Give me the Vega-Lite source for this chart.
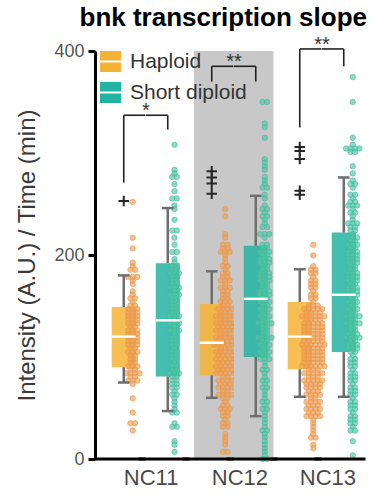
{
"$schema": "https://vega.github.io/schema/vega-lite/v6.json",
"padding": {"left": 15, "top": 4, "right": 0, "bottom": 0},
"bounds": "flush",
"title": {"text": "bnk transcription slope", "fontSize": 26, "fontWeight": "bold", "color": "#000000", "anchor": "end", "offset": 4},
"data": {"values": [
{"g":"NC11H","t":"Haploid","q1":90,"med":120,"q3":149,"lo":75,"hi":180},
{"g":"NC11D","t":"Short diploid","q1":81,"med":136,"q3":192,"lo":47,"hi":246},
{"g":"NC12H","t":"Haploid","q1":82,"med":114,"q3":152,"lo":60,"hi":184},
{"g":"NC12D","t":"Short diploid","q1":100,"med":157,"q3":209,"lo":42,"hi":258},
{"g":"NC13H","t":"Haploid","q1":88,"med":120,"q3":154,"lo":61,"hi":186},
{"g":"NC13D","t":"Short diploid","q1":105,"med":161,"q3":222,"lo":61,"hi":276},
{"g":"NC12H","k":"bg"},{"g":"NC12D","k":"bg"},
{"g":"NC11H","bt":337,"bl":271},{"g":"NC11D","bt":337,"bl":323,"s":"*"},
{"g":"NC12H","bt":385,"bl":370},{"g":"NC12D","bt":385,"bl":370,"s":"**"},
{"g":"NC13H","bt":402,"bl":325},{"g":"NC13D","bt":402,"bl":385,"s":"**"},
{"g":"NC11H","o":253},
{"g":"NC12H","o":282},{"g":"NC12H","o":276},{"g":"NC12H","o":270},{"g":"NC12H","o":260},
{"g":"NC13H","o":306},{"g":"NC13H","o":302},{"g":"NC13H","o":294},{"g":"NC13H","o":263},{"g":"NC13H","o":259},
{"g":"NC11H","v":253},{"g":"NC11H","v":220},{"g":"NC11H","v":209},{"g":"NC11H","v":194},{"g":"NC11H","v":192},{"g":"NC11H","v":188},{"g":"NC11H","v":186},{"g":"NC11H","v":181},{"g":"NC11H","v":180},{"g":"NC11H","v":179},{"g":"NC11H","v":176},{"g":"NC11H","v":172},{"g":"NC11H","v":166},{"g":"NC11H","v":163},{"g":"NC11H","v":160},{"g":"NC11H","v":158},{"g":"NC11H","v":155},{"g":"NC11H","v":153},{"g":"NC11H","v":151},{"g":"NC11H","v":149},{"g":"NC11H","v":148},{"g":"NC11H","v":147},{"g":"NC11H","v":146},{"g":"NC11H","v":145},{"g":"NC11H","v":144},{"g":"NC11H","v":143},{"g":"NC11H","v":141},{"g":"NC11H","v":140},{"g":"NC11H","v":139},{"g":"NC11H","v":138},{"g":"NC11H","v":137},{"g":"NC11H","v":135},{"g":"NC11H","v":134},{"g":"NC11H","v":133},{"g":"NC11H","v":132},{"g":"NC11H","v":130},{"g":"NC11H","v":129},{"g":"NC11H","v":128},{"g":"NC11H","v":127},{"g":"NC11H","v":125},{"g":"NC11H","v":124},{"g":"NC11H","v":123},{"g":"NC11H","v":122},{"g":"NC11H","v":121},{"g":"NC11H","v":120},{"g":"NC11H","v":118},{"g":"NC11H","v":117},{"g":"NC11H","v":116},{"g":"NC11H","v":115},{"g":"NC11H","v":113},{"g":"NC11H","v":112},{"g":"NC11H","v":111},{"g":"NC11H","v":110},{"g":"NC11H","v":108},{"g":"NC11H","v":107},{"g":"NC11H","v":105},{"g":"NC11H","v":104},{"g":"NC11H","v":102},{"g":"NC11H","v":101},{"g":"NC11H","v":99},{"g":"NC11H","v":97},{"g":"NC11H","v":96},{"g":"NC11H","v":94},{"g":"NC11H","v":93},{"g":"NC11H","v":91},{"g":"NC11H","v":89},{"g":"NC11H","v":88},{"g":"NC11H","v":87},{"g":"NC11H","v":86},{"g":"NC11H","v":85},{"g":"NC11H","v":84},{"g":"NC11H","v":83},{"g":"NC11H","v":81},{"g":"NC11H","v":80},{"g":"NC11H","v":78},{"g":"NC11H","v":77},{"g":"NC11H","v":75},{"g":"NC11H","v":62},{"g":"NC11H","v":46},{"g":"NC11H","v":37},{"g":"NC11H","v":35},{"g":"NC11H","v":29},
{"g":"NC11D","v":311},{"g":"NC11D","v":285},{"g":"NC11D","v":280},{"g":"NC11D","v":279},{"g":"NC11D","v":278},{"g":"NC11D","v":272},{"g":"NC11D","v":263},{"g":"NC11D","v":258},{"g":"NC11D","v":256},{"g":"NC11D","v":251},{"g":"NC11D","v":246},{"g":"NC11D","v":236},{"g":"NC11D","v":226},{"g":"NC11D","v":225},{"g":"NC11D","v":219},{"g":"NC11D","v":213},{"g":"NC11D","v":205},{"g":"NC11D","v":203},{"g":"NC11D","v":196},{"g":"NC11D","v":194},{"g":"NC11D","v":191},{"g":"NC11D","v":190},{"g":"NC11D","v":188},{"g":"NC11D","v":187},{"g":"NC11D","v":185},{"g":"NC11D","v":184},{"g":"NC11D","v":182},{"g":"NC11D","v":180},{"g":"NC11D","v":179},{"g":"NC11D","v":177},{"g":"NC11D","v":176},{"g":"NC11D","v":174},{"g":"NC11D","v":172},{"g":"NC11D","v":171},{"g":"NC11D","v":169},{"g":"NC11D","v":168},{"g":"NC11D","v":166},{"g":"NC11D","v":164},{"g":"NC11D","v":163},{"g":"NC11D","v":161},{"g":"NC11D","v":160},{"g":"NC11D","v":158},{"g":"NC11D","v":156},{"g":"NC11D","v":155},{"g":"NC11D","v":153},{"g":"NC11D","v":151},{"g":"NC11D","v":150},{"g":"NC11D","v":148},{"g":"NC11D","v":146},{"g":"NC11D","v":145},{"g":"NC11D","v":143},{"g":"NC11D","v":141},{"g":"NC11D","v":140},{"g":"NC11D","v":138},{"g":"NC11D","v":136},{"g":"NC11D","v":135},{"g":"NC11D","v":133},{"g":"NC11D","v":131},{"g":"NC11D","v":129},{"g":"NC11D","v":128},{"g":"NC11D","v":126},{"g":"NC11D","v":124},{"g":"NC11D","v":122},{"g":"NC11D","v":120},{"g":"NC11D","v":118},{"g":"NC11D","v":116},{"g":"NC11D","v":114},{"g":"NC11D","v":112},{"g":"NC11D","v":110},{"g":"NC11D","v":108},{"g":"NC11D","v":106},{"g":"NC11D","v":104},{"g":"NC11D","v":102},{"g":"NC11D","v":100},{"g":"NC11D","v":98},{"g":"NC11D","v":96},{"g":"NC11D","v":94},{"g":"NC11D","v":92},{"g":"NC11D","v":90},{"g":"NC11D","v":88},{"g":"NC11D","v":86},{"g":"NC11D","v":85},{"g":"NC11D","v":84},{"g":"NC11D","v":83},{"g":"NC11D","v":82},{"g":"NC11D","v":80},{"g":"NC11D","v":78},{"g":"NC11D","v":76},{"g":"NC11D","v":74},{"g":"NC11D","v":72},{"g":"NC11D","v":70},{"g":"NC11D","v":68},{"g":"NC11D","v":66},{"g":"NC11D","v":63},{"g":"NC11D","v":60},{"g":"NC11D","v":57},{"g":"NC11D","v":54},{"g":"NC11D","v":51},{"g":"NC11D","v":48},{"g":"NC11D","v":47},{"g":"NC11D","v":36},{"g":"NC11D","v":34},{"g":"NC11D","v":32},{"g":"NC11D","v":18},{"g":"NC11D","v":17},{"g":"NC11D","v":10},
{"g":"NC12H","v":248},{"g":"NC12H","v":240},{"g":"NC12H","v":222},{"g":"NC12H","v":218},{"g":"NC12H","v":212},{"g":"NC12H","v":210},{"g":"NC12H","v":208},{"g":"NC12H","v":207},{"g":"NC12H","v":206},{"g":"NC12H","v":204},{"g":"NC12H","v":203},{"g":"NC12H","v":202},{"g":"NC12H","v":199},{"g":"NC12H","v":194},{"g":"NC12H","v":192},{"g":"NC12H","v":189},{"g":"NC12H","v":186},{"g":"NC12H","v":185},{"g":"NC12H","v":183},{"g":"NC12H","v":181},{"g":"NC12H","v":180},{"g":"NC12H","v":178},{"g":"NC12H","v":176},{"g":"NC12H","v":175},{"g":"NC12H","v":173},{"g":"NC12H","v":171},{"g":"NC12H","v":170},{"g":"NC12H","v":168},{"g":"NC12H","v":166},{"g":"NC12H","v":165},{"g":"NC12H","v":163},{"g":"NC12H","v":161},{"g":"NC12H","v":160},{"g":"NC12H","v":158},{"g":"NC12H","v":157},{"g":"NC12H","v":155},{"g":"NC12H","v":154},{"g":"NC12H","v":153},{"g":"NC12H","v":151},{"g":"NC12H","v":150},{"g":"NC12H","v":149},{"g":"NC12H","v":148},{"g":"NC12H","v":147},{"g":"NC12H","v":146},{"g":"NC12H","v":145},{"g":"NC12H","v":144},{"g":"NC12H","v":143},{"g":"NC12H","v":142},{"g":"NC12H","v":141},{"g":"NC12H","v":140},{"g":"NC12H","v":139},{"g":"NC12H","v":138},{"g":"NC12H","v":137},{"g":"NC12H","v":136},{"g":"NC12H","v":135},{"g":"NC12H","v":134},{"g":"NC12H","v":133},{"g":"NC12H","v":132},{"g":"NC12H","v":131},{"g":"NC12H","v":130},{"g":"NC12H","v":129},{"g":"NC12H","v":128},{"g":"NC12H","v":127},{"g":"NC12H","v":126},{"g":"NC12H","v":125},{"g":"NC12H","v":124},{"g":"NC12H","v":123},{"g":"NC12H","v":122},{"g":"NC12H","v":121},{"g":"NC12H","v":120},{"g":"NC12H","v":119},{"g":"NC12H","v":118},{"g":"NC12H","v":117},{"g":"NC12H","v":116},{"g":"NC12H","v":115},{"g":"NC12H","v":115},{"g":"NC12H","v":114},{"g":"NC12H","v":113},{"g":"NC12H","v":112},{"g":"NC12H","v":111},{"g":"NC12H","v":110},{"g":"NC12H","v":109},{"g":"NC12H","v":108},{"g":"NC12H","v":107},{"g":"NC12H","v":106},{"g":"NC12H","v":105},{"g":"NC12H","v":104},{"g":"NC12H","v":103},{"g":"NC12H","v":102},{"g":"NC12H","v":101},{"g":"NC12H","v":100},{"g":"NC12H","v":99},{"g":"NC12H","v":98},{"g":"NC12H","v":97},{"g":"NC12H","v":96},{"g":"NC12H","v":95},{"g":"NC12H","v":94},{"g":"NC12H","v":93},{"g":"NC12H","v":92},{"g":"NC12H","v":91},{"g":"NC12H","v":90},{"g":"NC12H","v":89},{"g":"NC12H","v":88},{"g":"NC12H","v":87},{"g":"NC12H","v":86},{"g":"NC12H","v":85},{"g":"NC12H","v":84},{"g":"NC12H","v":83},{"g":"NC12H","v":140},{"g":"NC12H","v":135},{"g":"NC12H","v":130},{"g":"NC12H","v":126},{"g":"NC12H","v":122},{"g":"NC12H","v":118},{"g":"NC12H","v":112},{"g":"NC12H","v":108},{"g":"NC12H","v":104},{"g":"NC12H","v":100},{"g":"NC12H","v":96},{"g":"NC12H","v":92},{"g":"NC12H","v":88},{"g":"NC12H","v":84},{"g":"NC12H","v":81},{"g":"NC12H","v":80},{"g":"NC12H","v":79},{"g":"NC12H","v":78},{"g":"NC12H","v":77},{"g":"NC12H","v":76},{"g":"NC12H","v":75},{"g":"NC12H","v":74},{"g":"NC12H","v":73},{"g":"NC12H","v":72},{"g":"NC12H","v":71},{"g":"NC12H","v":70},{"g":"NC12H","v":69},{"g":"NC12H","v":68},{"g":"NC12H","v":66},{"g":"NC12H","v":65},{"g":"NC12H","v":64},{"g":"NC12H","v":63},{"g":"NC12H","v":61},{"g":"NC12H","v":60},{"g":"NC12H","v":56},{"g":"NC12H","v":55},{"g":"NC12H","v":53},{"g":"NC12H","v":52},{"g":"NC12H","v":50},{"g":"NC12H","v":49},{"g":"NC12H","v":47},{"g":"NC12H","v":46},{"g":"NC12H","v":44},{"g":"NC12H","v":42},{"g":"NC12H","v":40},{"g":"NC12H","v":38},{"g":"NC12H","v":36},{"g":"NC12H","v":34},{"g":"NC12H","v":32},{"g":"NC12H","v":27},{"g":"NC12H","v":22},{"g":"NC12H","v":18},{"g":"NC12H","v":16},{"g":"NC12H","v":10},{"g":"NC12H","v":8},
{"g":"NC12D","v":353},{"g":"NC12D","v":351},{"g":"NC12D","v":330},{"g":"NC12D","v":328},{"g":"NC12D","v":316},{"g":"NC12D","v":295},{"g":"NC12D","v":291},{"g":"NC12D","v":287},{"g":"NC12D","v":284},{"g":"NC12D","v":278},{"g":"NC12D","v":274},{"g":"NC12D","v":271},{"g":"NC12D","v":269},{"g":"NC12D","v":268},{"g":"NC12D","v":261},{"g":"NC12D","v":257},{"g":"NC12D","v":249},{"g":"NC12D","v":248},{"g":"NC12D","v":247},{"g":"NC12D","v":242},{"g":"NC12D","v":239},{"g":"NC12D","v":238},{"g":"NC12D","v":237},{"g":"NC12D","v":232},{"g":"NC12D","v":230},{"g":"NC12D","v":228},{"g":"NC12D","v":223},{"g":"NC12D","v":222},{"g":"NC12D","v":221},{"g":"NC12D","v":217},{"g":"NC12D","v":212},{"g":"NC12D","v":210},{"g":"NC12D","v":208},{"g":"NC12D","v":207},{"g":"NC12D","v":205},{"g":"NC12D","v":204},{"g":"NC12D","v":203},{"g":"NC12D","v":201},{"g":"NC12D","v":200},{"g":"NC12D","v":198},{"g":"NC12D","v":197},{"g":"NC12D","v":196},{"g":"NC12D","v":194},{"g":"NC12D","v":193},{"g":"NC12D","v":191},{"g":"NC12D","v":190},{"g":"NC12D","v":188},{"g":"NC12D","v":187},{"g":"NC12D","v":185},{"g":"NC12D","v":184},{"g":"NC12D","v":182},{"g":"NC12D","v":181},{"g":"NC12D","v":179},{"g":"NC12D","v":178},{"g":"NC12D","v":176},{"g":"NC12D","v":175},{"g":"NC12D","v":173},{"g":"NC12D","v":172},{"g":"NC12D","v":170},{"g":"NC12D","v":169},{"g":"NC12D","v":167},{"g":"NC12D","v":166},{"g":"NC12D","v":164},{"g":"NC12D","v":163},{"g":"NC12D","v":161},{"g":"NC12D","v":160},{"g":"NC12D","v":158},{"g":"NC12D","v":157},{"g":"NC12D","v":155},{"g":"NC12D","v":154},{"g":"NC12D","v":152},{"g":"NC12D","v":151},{"g":"NC12D","v":149},{"g":"NC12D","v":148},{"g":"NC12D","v":146},{"g":"NC12D","v":145},{"g":"NC12D","v":143},{"g":"NC12D","v":142},{"g":"NC12D","v":140},{"g":"NC12D","v":139},{"g":"NC12D","v":137},{"g":"NC12D","v":136},{"g":"NC12D","v":134},{"g":"NC12D","v":133},{"g":"NC12D","v":131},{"g":"NC12D","v":130},{"g":"NC12D","v":128},{"g":"NC12D","v":127},{"g":"NC12D","v":125},{"g":"NC12D","v":124},{"g":"NC12D","v":122},{"g":"NC12D","v":121},{"g":"NC12D","v":119},{"g":"NC12D","v":118},{"g":"NC12D","v":116},{"g":"NC12D","v":115},{"g":"NC12D","v":113},{"g":"NC12D","v":112},{"g":"NC12D","v":110},{"g":"NC12D","v":109},{"g":"NC12D","v":107},{"g":"NC12D","v":106},{"g":"NC12D","v":104},{"g":"NC12D","v":103},{"g":"NC12D","v":101},{"g":"NC12D","v":100},{"g":"NC12D","v":195},{"g":"NC12D","v":180},{"g":"NC12D","v":165},{"g":"NC12D","v":150},{"g":"NC12D","v":135},{"g":"NC12D","v":120},{"g":"NC12D","v":105},{"g":"NC12D","v":98},{"g":"NC12D","v":95},{"g":"NC12D","v":93},{"g":"NC12D","v":90},{"g":"NC12D","v":88},{"g":"NC12D","v":85},{"g":"NC12D","v":83},{"g":"NC12D","v":80},{"g":"NC12D","v":78},{"g":"NC12D","v":75},{"g":"NC12D","v":72},{"g":"NC12D","v":70},{"g":"NC12D","v":67},{"g":"NC12D","v":64},{"g":"NC12D","v":62},{"g":"NC12D","v":59},{"g":"NC12D","v":56},{"g":"NC12D","v":54},{"g":"NC12D","v":51},{"g":"NC12D","v":49},{"g":"NC12D","v":47},{"g":"NC12D","v":45},{"g":"NC12D","v":39},{"g":"NC12D","v":37},{"g":"NC12D","v":34},{"g":"NC12D","v":31},{"g":"NC12D","v":28},{"g":"NC12D","v":25},{"g":"NC12D","v":22},{"g":"NC12D","v":19},{"g":"NC12D","v":16},{"g":"NC12D","v":12},{"g":"NC12D","v":8},{"g":"NC12D","v":5},{"g":"NC12D","v":3},{"g":"NC12D","v":1},
{"g":"NC13H","v":212},{"g":"NC13H","v":202},{"g":"NC13H","v":189},{"g":"NC13H","v":187},{"g":"NC13H","v":186},{"g":"NC13H","v":184},{"g":"NC13H","v":182},{"g":"NC13H","v":180},{"g":"NC13H","v":178},{"g":"NC13H","v":176},{"g":"NC13H","v":174},{"g":"NC13H","v":172},{"g":"NC13H","v":170},{"g":"NC13H","v":168},{"g":"NC13H","v":166},{"g":"NC13H","v":164},{"g":"NC13H","v":162},{"g":"NC13H","v":160},{"g":"NC13H","v":158},{"g":"NC13H","v":156},{"g":"NC13H","v":153},{"g":"NC13H","v":152},{"g":"NC13H","v":151},{"g":"NC13H","v":150},{"g":"NC13H","v":149},{"g":"NC13H","v":148},{"g":"NC13H","v":147},{"g":"NC13H","v":146},{"g":"NC13H","v":145},{"g":"NC13H","v":144},{"g":"NC13H","v":143},{"g":"NC13H","v":142},{"g":"NC13H","v":141},{"g":"NC13H","v":140},{"g":"NC13H","v":139},{"g":"NC13H","v":138},{"g":"NC13H","v":137},{"g":"NC13H","v":136},{"g":"NC13H","v":135},{"g":"NC13H","v":134},{"g":"NC13H","v":133},{"g":"NC13H","v":132},{"g":"NC13H","v":131},{"g":"NC13H","v":130},{"g":"NC13H","v":129},{"g":"NC13H","v":128},{"g":"NC13H","v":127},{"g":"NC13H","v":126},{"g":"NC13H","v":125},{"g":"NC13H","v":124},{"g":"NC13H","v":123},{"g":"NC13H","v":122},{"g":"NC13H","v":121},{"g":"NC13H","v":120},{"g":"NC13H","v":119},{"g":"NC13H","v":118},{"g":"NC13H","v":117},{"g":"NC13H","v":116},{"g":"NC13H","v":115},{"g":"NC13H","v":114},{"g":"NC13H","v":113},{"g":"NC13H","v":112},{"g":"NC13H","v":111},{"g":"NC13H","v":110},{"g":"NC13H","v":109},{"g":"NC13H","v":108},{"g":"NC13H","v":107},{"g":"NC13H","v":106},{"g":"NC13H","v":105},{"g":"NC13H","v":104},{"g":"NC13H","v":103},{"g":"NC13H","v":102},{"g":"NC13H","v":101},{"g":"NC13H","v":100},{"g":"NC13H","v":99},{"g":"NC13H","v":98},{"g":"NC13H","v":97},{"g":"NC13H","v":96},{"g":"NC13H","v":95},{"g":"NC13H","v":94},{"g":"NC13H","v":93},{"g":"NC13H","v":92},{"g":"NC13H","v":91},{"g":"NC13H","v":90},{"g":"NC13H","v":89},{"g":"NC13H","v":150},{"g":"NC13H","v":146},{"g":"NC13H","v":142},{"g":"NC13H","v":138},{"g":"NC13H","v":134},{"g":"NC13H","v":130},{"g":"NC13H","v":127},{"g":"NC13H","v":124},{"g":"NC13H","v":121},{"g":"NC13H","v":118},{"g":"NC13H","v":115},{"g":"NC13H","v":112},{"g":"NC13H","v":109},{"g":"NC13H","v":106},{"g":"NC13H","v":103},{"g":"NC13H","v":100},{"g":"NC13H","v":97},{"g":"NC13H","v":94},{"g":"NC13H","v":91},{"g":"NC13H","v":140},{"g":"NC13H","v":132},{"g":"NC13H","v":125},{"g":"NC13H","v":117},{"g":"NC13H","v":110},{"g":"NC13H","v":102},{"g":"NC13H","v":95},{"g":"NC13H","v":88},{"g":"NC13H","v":87},{"g":"NC13H","v":86},{"g":"NC13H","v":85},{"g":"NC13H","v":84},{"g":"NC13H","v":83},{"g":"NC13H","v":82},{"g":"NC13H","v":81},{"g":"NC13H","v":80},{"g":"NC13H","v":79},{"g":"NC13H","v":78},{"g":"NC13H","v":77},{"g":"NC13H","v":76},{"g":"NC13H","v":75},{"g":"NC13H","v":74},{"g":"NC13H","v":73},{"g":"NC13H","v":72},{"g":"NC13H","v":71},{"g":"NC13H","v":70},{"g":"NC13H","v":69},{"g":"NC13H","v":68},{"g":"NC13H","v":67},{"g":"NC13H","v":66},{"g":"NC13H","v":65},{"g":"NC13H","v":64},{"g":"NC13H","v":63},{"g":"NC13H","v":62},{"g":"NC13H","v":86},{"g":"NC13H","v":80},{"g":"NC13H","v":74},{"g":"NC13H","v":60},{"g":"NC13H","v":59},{"g":"NC13H","v":58},{"g":"NC13H","v":57},{"g":"NC13H","v":56},{"g":"NC13H","v":55},{"g":"NC13H","v":54},{"g":"NC13H","v":53},{"g":"NC13H","v":52},{"g":"NC13H","v":51},{"g":"NC13H","v":50},{"g":"NC13H","v":49},{"g":"NC13H","v":48},{"g":"NC13H","v":47},{"g":"NC13H","v":46},{"g":"NC13H","v":45},{"g":"NC13H","v":44},{"g":"NC13H","v":43},{"g":"NC13H","v":42},{"g":"NC13H","v":41},{"g":"NC13H","v":36},{"g":"NC13H","v":33},{"g":"NC13H","v":30},{"g":"NC13H","v":27},{"g":"NC13H","v":24},{"g":"NC13H","v":21},{"g":"NC13H","v":17},{"g":"NC13H","v":13},
{"g":"NC13D","v":377},{"g":"NC13D","v":351},{"g":"NC13D","v":316},{"g":"NC13D","v":311},{"g":"NC13D","v":306},{"g":"NC13D","v":306},{"g":"NC13D","v":305},{"g":"NC13D","v":305},{"g":"NC13D","v":304},{"g":"NC13D","v":301},{"g":"NC13D","v":290},{"g":"NC13D","v":282},{"g":"NC13D","v":276},{"g":"NC13D","v":271},{"g":"NC13D","v":270},{"g":"NC13D","v":266},{"g":"NC13D","v":260},{"g":"NC13D","v":259},{"g":"NC13D","v":258},{"g":"NC13D","v":255},{"g":"NC13D","v":254},{"g":"NC13D","v":250},{"g":"NC13D","v":250},{"g":"NC13D","v":249},{"g":"NC13D","v":248},{"g":"NC13D","v":243},{"g":"NC13D","v":242},{"g":"NC13D","v":238},{"g":"NC13D","v":237},{"g":"NC13D","v":234},{"g":"NC13D","v":233},{"g":"NC13D","v":232},{"g":"NC13D","v":229},{"g":"NC13D","v":228},{"g":"NC13D","v":225},{"g":"NC13D","v":224},{"g":"NC13D","v":221},{"g":"NC13D","v":220},{"g":"NC13D","v":218},{"g":"NC13D","v":217},{"g":"NC13D","v":215},{"g":"NC13D","v":214},{"g":"NC13D","v":212},{"g":"NC13D","v":211},{"g":"NC13D","v":209},{"g":"NC13D","v":208},{"g":"NC13D","v":206},{"g":"NC13D","v":205},{"g":"NC13D","v":203},{"g":"NC13D","v":202},{"g":"NC13D","v":200},{"g":"NC13D","v":199},{"g":"NC13D","v":197},{"g":"NC13D","v":196},{"g":"NC13D","v":194},{"g":"NC13D","v":193},{"g":"NC13D","v":191},{"g":"NC13D","v":190},{"g":"NC13D","v":188},{"g":"NC13D","v":187},{"g":"NC13D","v":185},{"g":"NC13D","v":184},{"g":"NC13D","v":182},{"g":"NC13D","v":181},{"g":"NC13D","v":179},{"g":"NC13D","v":178},{"g":"NC13D","v":176},{"g":"NC13D","v":175},{"g":"NC13D","v":173},{"g":"NC13D","v":172},{"g":"NC13D","v":170},{"g":"NC13D","v":169},{"g":"NC13D","v":167},{"g":"NC13D","v":166},{"g":"NC13D","v":164},{"g":"NC13D","v":163},{"g":"NC13D","v":161},{"g":"NC13D","v":160},{"g":"NC13D","v":158},{"g":"NC13D","v":157},{"g":"NC13D","v":155},{"g":"NC13D","v":154},{"g":"NC13D","v":152},{"g":"NC13D","v":151},{"g":"NC13D","v":149},{"g":"NC13D","v":148},{"g":"NC13D","v":146},{"g":"NC13D","v":145},{"g":"NC13D","v":143},{"g":"NC13D","v":142},{"g":"NC13D","v":140},{"g":"NC13D","v":139},{"g":"NC13D","v":137},{"g":"NC13D","v":136},{"g":"NC13D","v":134},{"g":"NC13D","v":133},{"g":"NC13D","v":131},{"g":"NC13D","v":130},{"g":"NC13D","v":128},{"g":"NC13D","v":127},{"g":"NC13D","v":125},{"g":"NC13D","v":124},{"g":"NC13D","v":122},{"g":"NC13D","v":121},{"g":"NC13D","v":119},{"g":"NC13D","v":118},{"g":"NC13D","v":116},{"g":"NC13D","v":115},{"g":"NC13D","v":113},{"g":"NC13D","v":112},{"g":"NC13D","v":110},{"g":"NC13D","v":109},{"g":"NC13D","v":107},{"g":"NC13D","v":106},{"g":"NC13D","v":210},{"g":"NC13D","v":195},{"g":"NC13D","v":180},{"g":"NC13D","v":165},{"g":"NC13D","v":150},{"g":"NC13D","v":135},{"g":"NC13D","v":120},{"g":"NC13D","v":200},{"g":"NC13D","v":170},{"g":"NC13D","v":140},{"g":"NC13D","v":125},{"g":"NC13D","v":110},{"g":"NC13D","v":103},{"g":"NC13D","v":101},{"g":"NC13D","v":99},{"g":"NC13D","v":97},{"g":"NC13D","v":95},{"g":"NC13D","v":93},{"g":"NC13D","v":91},{"g":"NC13D","v":89},{"g":"NC13D","v":87},{"g":"NC13D","v":85},{"g":"NC13D","v":83},{"g":"NC13D","v":81},{"g":"NC13D","v":79},{"g":"NC13D","v":77},{"g":"NC13D","v":75},{"g":"NC13D","v":73},{"g":"NC13D","v":71},{"g":"NC13D","v":69},{"g":"NC13D","v":67},{"g":"NC13D","v":65},{"g":"NC13D","v":63},{"g":"NC13D","v":62},{"g":"NC13D","v":59},{"g":"NC13D","v":57},{"g":"NC13D","v":55},{"g":"NC13D","v":53},{"g":"NC13D","v":51},{"g":"NC13D","v":49},{"g":"NC13D","v":47},{"g":"NC13D","v":45},{"g":"NC13D","v":43},{"g":"NC13D","v":41},{"g":"NC13D","v":39},{"g":"NC13D","v":37},{"g":"NC13D","v":35},{"g":"NC13D","v":33},{"g":"NC13D","v":31},{"g":"NC13D","v":29},{"g":"NC13D","v":18},{"g":"NC13D","v":6}
]},
"spacing": 0,
"facet": {"column": {"field": "g", "type": "nominal", "title": null,
  "sort": ["NC11H","NC11D","NC12H","NC12D","NC13H","NC13D"],
  "header": {"labelOrient": "bottom", "labelAnchor": "middle", "labelAlign": "left",
    "labelExpr": "slice(datum.value,-1)=='H' ? slice(datum.value,0,4) : ''",
    "labelFontSize": 22, "labelColor": "#4a4a4a", "labelPadding": 9}}},
"spec": {
 "width": 43.5, "height": 408,
 "layer": [
  {"transform": [{"filter": "datum.k=='bg' && datum.g=='NC12H'"}],
   "mark": {"type": "rect", "color": "#C9C8C9"},
   "encoding": {"x": {"datum": -3.44, "type": "quantitative", "scale": {"domain": [-4.333, 5.333], "nice": false, "zero": false}, "axis": null}, "x2": {"datum": 5.6},
     "y": {"datum": 0, "type": "quantitative", "scale": {"domain": [0, 400], "nice": false}, "axis": {"title": "Intensity (A.U.) / Time (min)", "values": [0, 200, 400]}}, "y2": {"datum": 400}}},
  {"transform": [{"filter": "datum.k=='bg' && datum.g=='NC12D'"}],
   "mark": {"type": "rect", "color": "#C9C8C9"},
   "encoding": {"x": {"datum": -4.333, "type": "quantitative", "scale": {"domain": [-4.333, 5.333], "nice": false, "zero": false}, "axis": null}, "x2": {"datum": 4.44},
     "y": {"datum": 0, "type": "quantitative", "axis": {"title": "Intensity (A.U.) / Time (min)", "values": [0, 200, 400]}}, "y2": {"datum": 400}}},
  {"transform": [{"filter": "isValid(datum.q1)"}],
   "mark": {"type": "rect", "opacity": 0.85},
   "encoding": {"x": {"datum": -2.167, "type": "quantitative", "scale": {"domain": [-4.333, 5.333], "nice": false, "zero": false}, "axis": null}, "x2": {"datum": 3.167},
     "y": {"field": "q1", "type": "quantitative", "axis": {"title": "Intensity (A.U.) / Time (min)", "values": [0, 200, 400]}},
     "y2": {"field": "q3"},
     "color": {"field": "t", "type": "nominal", "scale": {"domain": ["Haploid", "Short diploid"], "range": ["#F5B335", "#22B3A1"]},
       "legend": {"title": null, "orient": "none", "legendX": -2, "legendY": 0, "symbolType": "M-1,-1H1V-0.1H-1ZM-1,0.1H1V1H-1Z", "symbolSize": 441, "symbolOpacity": 1, "symbolStrokeWidth": 0, "labelFontSize": 21, "labelColor": "#333333", "labelOffset": 9, "rowPadding": 9}}}},
  {"transform": [{"filter": "isValid(datum.v)"}, {"bin": {"step": 3.5}, "field": "v", "as": ["b", "b_end"]}, {"window": [{"op": "row_number", "as": "id"}], "groupby": ["g"]}],
   "mark": {"type": "circle", "size": 30, "fillOpacity": 0.65, "strokeWidth": 0.8, "strokeOpacity": 0.7},
   "encoding": {"x": {"aggregate": "count", "type": "quantitative", "stack": "center", "scale": {"domain": [-4.333, 5.333], "nice": false, "zero": false}, "axis": null},
     "y": {"field": "b", "type": "quantitative", "axis": {"title": "Intensity (A.U.) / Time (min)", "values": [0, 200, 400]}},
     "detail": {"field": "id", "type": "nominal"},
     "fill": {"field": "g", "type": "nominal", "scale": {"domain": ["NC11H","NC11D","NC12H","NC12D","NC13H","NC13D"], "range": ["#EE9E55","#53C5A5","#EE9E55","#53C5A5","#EE9E55","#53C5A5"]}, "legend": null},
     "stroke": {"field": "g", "type": "nominal", "scale": {"domain": ["NC11H","NC11D","NC12H","NC12D","NC13H","NC13D"], "range": ["#E8954A","#3DBB98","#E8954A","#3DBB98","#E8954A","#3DBB98"]}, "legend": null}}},
  {"transform": [{"filter": "isValid(datum.q1)"}],
   "mark": {"type": "rule", "color": "#6e6e6e", "strokeWidth": 2.5},
   "encoding": {"x": {"datum": 0.5, "type": "quantitative", "scale": {"domain": [-4.333, 5.333], "nice": false, "zero": false}, "axis": null}, "y": {"field": "q3", "type": "quantitative", "axis": {"title": "Intensity (A.U.) / Time (min)", "values": [0, 200, 400]}}, "y2": {"field": "hi"}}},
  {"transform": [{"filter": "isValid(datum.q1)"}],
   "mark": {"type": "rule", "color": "#6e6e6e", "strokeWidth": 2.5},
   "encoding": {"x": {"datum": 0.5, "type": "quantitative", "scale": {"domain": [-4.333, 5.333], "nice": false, "zero": false}, "axis": null}, "y": {"field": "lo", "type": "quantitative", "axis": {"title": "Intensity (A.U.) / Time (min)", "values": [0, 200, 400]}}, "y2": {"field": "q1"}}},
  {"transform": [{"filter": "isValid(datum.q1)"}],
   "mark": {"type": "rule", "color": "#6e6e6e", "strokeWidth": 2.5},
   "encoding": {"x": {"datum": -0.8, "type": "quantitative", "scale": {"domain": [-4.333, 5.333], "nice": false, "zero": false}, "axis": null}, "x2": {"datum": 1.8}, "y": {"field": "hi", "type": "quantitative", "axis": {"title": "Intensity (A.U.) / Time (min)", "values": [0, 200, 400]}}}},
  {"transform": [{"filter": "isValid(datum.q1)"}],
   "mark": {"type": "rule", "color": "#6e6e6e", "strokeWidth": 2.5},
   "encoding": {"x": {"datum": -0.8, "type": "quantitative", "scale": {"domain": [-4.333, 5.333], "nice": false, "zero": false}, "axis": null}, "x2": {"datum": 1.8}, "y": {"field": "lo", "type": "quantitative", "axis": {"title": "Intensity (A.U.) / Time (min)", "values": [0, 200, 400]}}}},
  {"transform": [{"filter": "isValid(datum.q1)"}],
   "mark": {"type": "rule", "color": "#ffffff", "strokeWidth": 2.5},
   "encoding": {"x": {"datum": -2.167, "type": "quantitative", "scale": {"domain": [-4.333, 5.333], "nice": false, "zero": false}, "axis": null}, "x2": {"datum": 3.167}, "y": {"field": "med", "type": "quantitative", "axis": {"title": "Intensity (A.U.) / Time (min)", "values": [0, 200, 400]}}}},
  {"transform": [{"filter": "isValid(datum.o)"}],
   "mark": {"type": "point", "shape": "M-1,0H1M0,-1V1", "size": 110, "filled": false, "stroke": "#262626", "strokeWidth": 2, "opacity": 1},
   "encoding": {"x": {"datum": 0.5, "type": "quantitative", "scale": {"domain": [-4.333, 5.333], "nice": false, "zero": false}, "axis": null}, "y": {"field": "o", "type": "quantitative", "axis": {"title": "Intensity (A.U.) / Time (min)", "values": [0, 200, 400]}}}},
  {"transform": [{"filter": "isValid(datum.bt)"}],
   "mark": {"type": "rule", "color": "#222222", "strokeWidth": 1.6},
   "encoding": {"x": {"datum": 0.5, "type": "quantitative", "scale": {"domain": [-4.333, 5.333], "nice": false, "zero": false}, "axis": null}, "y": {"field": "bl", "type": "quantitative", "axis": {"title": "Intensity (A.U.) / Time (min)", "values": [0, 200, 400]}}, "y2": {"field": "bt"}}},
  {"transform": [{"filter": "isValid(datum.bt) && !isValid(datum.s)"}],
   "mark": {"type": "rule", "color": "#222222", "strokeWidth": 1.6},
   "encoding": {"x": {"datum": 0.5, "type": "quantitative", "scale": {"domain": [-4.333, 5.333], "nice": false, "zero": false}, "axis": null}, "x2": {"datum": 5.333}, "y": {"field": "bt", "type": "quantitative", "axis": {"title": "Intensity (A.U.) / Time (min)", "values": [0, 200, 400]}}}},
  {"transform": [{"filter": "isValid(datum.s)"}],
   "mark": {"type": "rule", "color": "#222222", "strokeWidth": 1.6},
   "encoding": {"x": {"datum": -4.333, "type": "quantitative", "scale": {"domain": [-4.333, 5.333], "nice": false, "zero": false}, "axis": null}, "x2": {"datum": 0.5}, "y": {"field": "bt", "type": "quantitative", "axis": {"title": "Intensity (A.U.) / Time (min)", "values": [0, 200, 400]}}}},
  {"transform": [{"filter": "isValid(datum.s)"}],
   "mark": {"type": "text", "fontSize": 20, "color": "#333333", "baseline": "alphabetic", "dy": 2},
   "encoding": {"x": {"datum": -4.333, "type": "quantitative", "scale": {"domain": [-4.333, 5.333], "nice": false, "zero": false}, "axis": null}, "y": {"field": "bt", "type": "quantitative", "axis": {"title": "Intensity (A.U.) / Time (min)", "values": [0, 200, 400]}}, "text": {"field": "s"}}},
  {"transform": [{"filter": "isValid(datum.q1)"}],
   "mark": {"type": "rule", "color": "#000000", "strokeWidth": 3},
   "encoding": {"x": {"datum": -6, "type": "quantitative", "scale": {"domain": [-4.333, 5.333], "nice": false, "zero": false}, "axis": null}, "x2": {"datum": 5.333}, "y": {"datum": 0, "type": "quantitative", "axis": {"title": "Intensity (A.U.) / Time (min)", "values": [0, 200, 400]}}}}
 ]},
"config": {"font": "Liberation Sans", "view": {"stroke": null},
  "axisY": {"grid": false, "domainWidth": 3, "domainColor": "#000000", "tickWidth": 3, "tickColor": "#000000", "tickSize": 7, "labelFontSize": 18, "labelColor": "#555555", "labelPadding": 4, "offset": 7, "titleFontSize": 24, "titleFontWeight": "normal", "titleColor": "#3a3a3a", "titlePadding": 14}}
}
